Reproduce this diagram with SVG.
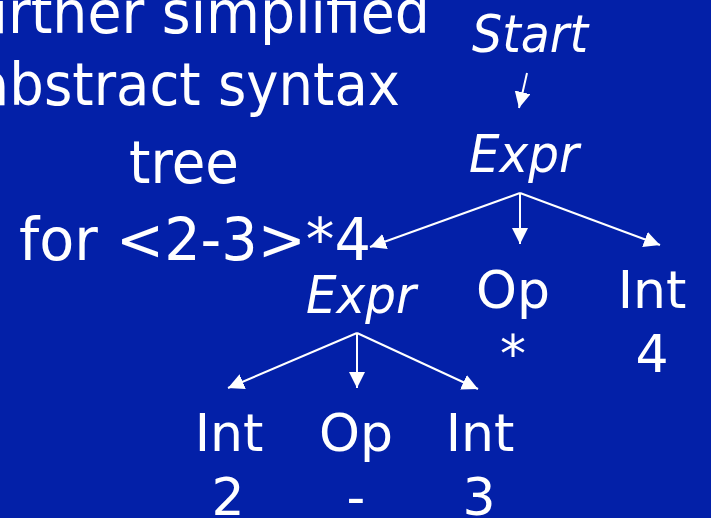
<svg xmlns="http://www.w3.org/2000/svg" width="711" height="518" viewBox="0 0 711 518">
<defs>
<style>
.t{font-family:"DejaVu Sans","Liberation Sans",sans-serif;fill:#fff;font-size:58px}
.n{font-family:"DejaVu Sans","Liberation Sans",sans-serif;fill:#fff;font-size:52px;text-anchor:middle}
.i{font-style:italic}
.c{stroke:#fff;stroke-width:2;fill:none;marker-end:url(#ah)}
</style>
<marker id="ah" markerUnits="userSpaceOnUse" markerWidth="18" markerHeight="18" refX="16" refY="8" orient="auto" viewBox="0 0 18 18">
<path d="M0,0 L16,8 L0,16 z" fill="#fff"/>
</marker>
</defs>
<rect width="711" height="518" fill="#0320a8"/>
<g id="title">
<text class="t" x="-56" y="33" textLength="486" lengthAdjust="spacingAndGlyphs">Further simplified</text>
<text class="t" x="-24" y="105" textLength="424" lengthAdjust="spacingAndGlyphs">abstract syntax</text>
<text class="t" x="184" y="183" text-anchor="middle" textLength="110" lengthAdjust="spacingAndGlyphs">tree</text>
<text class="t" x="195" y="260" text-anchor="middle" textLength="352" lengthAdjust="spacingAndGlyphs">for &lt;2-3&gt;*4</text>
</g>
<g id="connectors">
<line class="c" x1="527" y1="73" x2="519" y2="108"/>
<line class="c" x1="520" y1="193" x2="370" y2="247"/>
<line class="c" x1="520" y1="193" x2="520" y2="244"/>
<line class="c" x1="520" y1="193" x2="660" y2="245"/>
<line class="c" x1="357" y1="333" x2="228" y2="388"/>
<line class="c" x1="357" y1="333" x2="357" y2="388"/>
<line class="c" x1="357" y1="333" x2="478" y2="389"/>
</g>
<g id="start"><text class="n i" x="530" y="52" textLength="116" lengthAdjust="spacingAndGlyphs">Start</text></g>
<g id="expr1"><text class="n i" x="524" y="172" textLength="110" lengthAdjust="spacingAndGlyphs">Expr</text></g>
<g id="expr2"><text class="n i" x="361" y="313" textLength="110" lengthAdjust="spacingAndGlyphs">Expr</text></g>
<g id="op1"><text class="n" x="513" y="308">Op</text><text class="n" x="513" y="372">*</text></g>
<g id="int4"><text class="n" x="652" y="308">Int</text><text class="n" x="652" y="372">4</text></g>
<g id="int2"><text class="n" x="229" y="451">Int</text><text class="n" x="228" y="515">2</text></g>
<g id="op2"><text class="n" x="356" y="451">Op</text><text class="n" x="356" y="515">-</text></g>
<g id="int3"><text class="n" x="480" y="451">Int</text><text class="n" x="479" y="515">3</text></g>
</svg>
